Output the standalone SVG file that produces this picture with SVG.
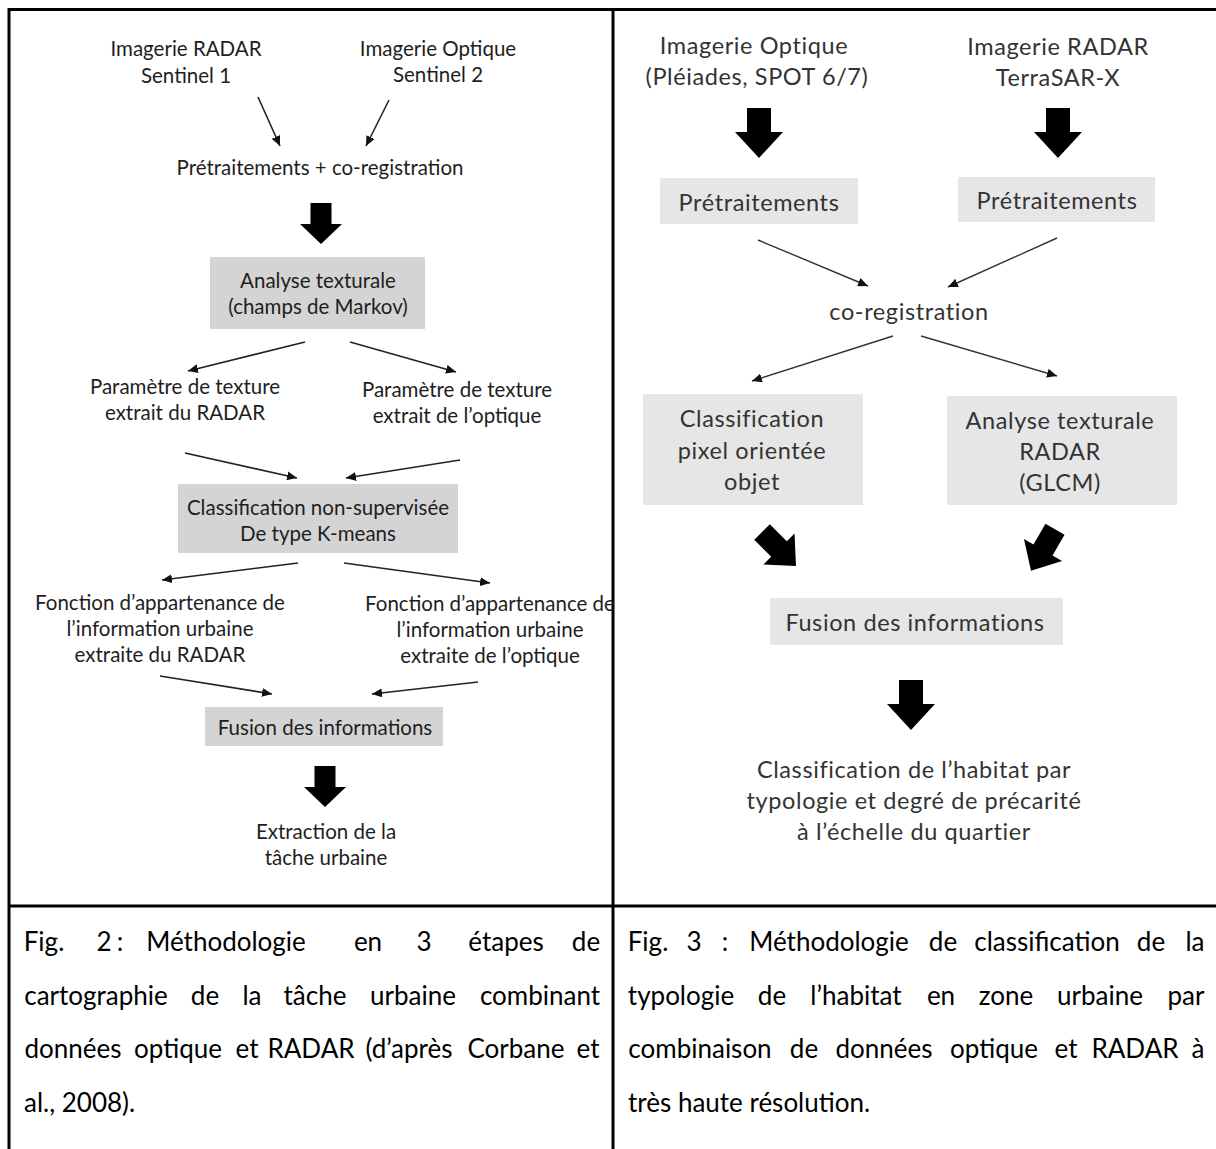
<svg xmlns="http://www.w3.org/2000/svg" width="1216" height="1149" viewBox="0 0 1216 1149">
<defs>
<style>
.t{font-family:Lato,"Liberation Sans",sans-serif;font-size:20.5px;fill:#1e1e1e;text-anchor:middle}
.tr{font-family:Lato,"Liberation Sans",sans-serif;font-size:23.5px;fill:#333;text-anchor:middle;letter-spacing:0.6px}
.cap{font-family:Lato,"Liberation Sans",sans-serif;font-size:26px;fill:#000;text-anchor:middle}
.capl{font-family:Lato,"Liberation Sans",sans-serif;font-size:26px;fill:#000}
.box{fill:#d4d4d4}
.boxr{fill:#e6e6e6}
.ln{stroke:#222;stroke-width:1.6;fill:none;marker-end:url(#ah)}
.lnr{stroke:#333;stroke-width:1.4;fill:none;marker-end:url(#ah)}
.frame{stroke:#000;stroke-width:3;fill:none}
.blk{fill:#000}
</style>
<marker id="ah" markerUnits="userSpaceOnUse" markerWidth="11" markerHeight="9" refX="10" refY="4.5" orient="auto">
<path d="M0,0 L10,4.5 L0,9 Z" fill="#111"/>
</marker>
<path id="bal" d="M-10.5,0 H10.5 V21 H21 L0,41 L-21,21 H-10.5 Z"/>
<path id="bar" d="M-12,0 H12 V24 H24 L0,50 L-24,24 H-12 Z"/>
<path id="bad" d="M-11,-24 H11 V0 H22 L0,24 L-22,0 H-11 Z"/>
</defs>
<rect x="0" y="0" width="1216" height="1149" fill="#fff"/>

<g id="frame">
<line class="frame" x1="9" y1="9.5" x2="1216" y2="9.5"/>
<line class="frame" x1="9" y1="8" x2="9" y2="1149"/>
<line class="frame" x1="613" y1="8" x2="613" y2="1149"/>
<line class="frame" x1="9" y1="906" x2="1216" y2="906"/>
</g>

<g id="connectors">
<line class="ln" x1="258" y1="97" x2="280" y2="146"/>
<line class="ln" x1="389" y1="100" x2="366" y2="146"/>
<line class="ln" x1="305" y1="342" x2="188" y2="371"/>
<line class="ln" x1="350" y1="342" x2="456" y2="372"/>
<line class="ln" x1="185" y1="453" x2="297" y2="478"/>
<line class="ln" x1="460" y1="460" x2="346" y2="478"/>
<line class="ln" x1="298" y1="563" x2="162" y2="580"/>
<line class="ln" x1="344" y1="563" x2="490" y2="583"/>
<line class="ln" x1="160" y1="676" x2="272" y2="694"/>
<line class="ln" x1="478" y1="682" x2="372" y2="694"/>
<use href="#bal" class="blk" x="321" y="203"/>
<use href="#bal" class="blk" x="325" y="766"/>

<line class="lnr" x1="758" y1="240" x2="868" y2="286"/>
<line class="lnr" x1="1057" y1="238" x2="948" y2="287"/>
<line class="lnr" x1="893" y1="336" x2="752" y2="381"/>
<line class="lnr" x1="921" y1="336" x2="1057" y2="376"/>
<use href="#bar" class="blk" x="759" y="108"/>
<use href="#bar" class="blk" x="1058" y="108"/>
<use href="#bad" class="blk" transform="translate(779,549) rotate(-45)"/>
<use href="#bad" class="blk" transform="translate(1043,550) rotate(30)"/>
<use href="#bar" class="blk" x="911" y="680"/>
</g>

<g id="n-radar1"><text class="t" x="186" y="56">Imagerie RADAR</text><text class="t" x="186" y="83">Sentinel 1</text></g>
<g id="n-opt2"><text class="t" x="438" y="56">Imagerie Optique</text><text class="t" x="438" y="82">Sentinel 2</text></g>
<g id="n-pretrait"><text class="t" x="320" y="175">Prétraitements + co-registration</text></g>
<g id="n-analyse"><rect class="box" x="210" y="257" width="215" height="72"/><text class="t" x="318" y="288">Analyse texturale</text><text class="t" x="318" y="314">(champs de Markov)</text></g>
<g id="n-param-radar"><text class="t" x="185" y="394">Paramètre de texture</text><text class="t" x="185" y="420">extrait du RADAR</text></g>
<g id="n-param-opt"><text class="t" x="457" y="397">Paramètre de texture</text><text class="t" x="457" y="423">extrait de l’optique</text></g>
<g id="n-classif"><rect class="box" x="178" y="484" width="280" height="69"/><text class="t" x="318" y="515">Classification non-supervisée</text><text class="t" x="318" y="541">De type K-means</text></g>
<g id="n-fonc-radar"><text class="t" x="160" y="610">Fonction d’appartenance de</text><text class="t" x="160" y="636">l’information urbaine</text><text class="t" x="160" y="662">extraite du RADAR</text></g>
<g id="n-fonc-opt"><text class="t" x="490" y="611">Fonction d’appartenance de</text><text class="t" x="490" y="637">l’information urbaine</text><text class="t" x="490" y="663">extraite de l’optique</text></g>
<g id="n-fusion1"><rect class="box" x="205" y="707" width="238" height="39"/><text class="t" x="325" y="735">Fusion des informations</text></g>
<g id="n-extraction"><text class="t" x="326" y="839">Extraction de la</text><text class="t" x="326" y="865">tâche urbaine</text></g>

<g id="n-optique"><text class="tr" x="754" y="54">Imagerie Optique</text><text class="tr" x="757" y="85">(Pléiades, SPOT 6/7)</text></g>
<g id="n-terrasar"><text class="tr" x="1058" y="55">Imagerie RADAR</text><text class="tr" x="1058" y="86">TerraSAR-X</text></g>
<g id="n-pre-l"><rect class="boxr" x="660" y="178" width="198" height="46"/><text class="tr" x="759" y="211">Prétraitements</text></g>
<g id="n-pre-r"><rect class="boxr" x="958" y="177" width="197" height="45"/><text class="tr" x="1057" y="209">Prétraitements</text></g>
<g id="n-coreg"><text class="tr" x="909" y="320">co-registration</text></g>
<g id="n-classpix"><rect class="boxr" x="643" y="394" width="220" height="111"/><text class="tr" x="752" y="427">Classification</text><text class="tr" x="752" y="459">pixel  orientée</text><text class="tr" x="752" y="490">objet</text></g>
<g id="n-glcm"><rect class="boxr" x="947" y="396" width="230" height="109"/><text class="tr" x="1060" y="429">Analyse texturale</text><text class="tr" x="1060" y="460">RADAR</text><text class="tr" x="1060" y="491">(GLCM)</text></g>
<g id="n-fusion2"><rect class="boxr" x="770" y="598" width="293" height="47"/><text class="tr" x="915" y="631">Fusion des informations</text></g>
<g id="n-habitat"><text class="tr" x="914" y="778">Classification de l’habitat par</text><text class="tr" x="914" y="809">typologie et degré de précarité</text><text class="tr" x="914" y="840">à l’échelle du quartier</text></g>

<g id="caption-fig2">
<text class="cap" y="951"><tspan x="44">Fig.</tspan><tspan x="104">2</tspan><tspan x="120">:</tspan><tspan x="226">Méthodologie</tspan><tspan x="368">en</tspan><tspan x="424">3</tspan><tspan x="506">étapes</tspan><tspan x="586">de</tspan></text>
<text class="cap" y="1005"><tspan x="96">cartographie</tspan><tspan x="205">de</tspan><tspan x="252">la</tspan><tspan x="315">tâche</tspan><tspan x="413">urbaine</tspan><tspan x="540">combinant</tspan></text>
<text class="cap" y="1058"><tspan x="73">données</tspan><tspan x="178">optique</tspan><tspan x="247">et</tspan><tspan x="311">RADAR</tspan><tspan x="409">(d’après</tspan><tspan x="516">Corbane</tspan><tspan x="588">et</tspan></text>
<text class="capl" x="24" y="1112">al., 2008).</text>
</g>
<g id="caption-fig3">
<text class="cap" y="951"><tspan x="648">Fig.</tspan><tspan x="694">3</tspan><tspan x="725">:</tspan><tspan x="829">Méthodologie</tspan><tspan x="943">de</tspan><tspan x="1047">classification</tspan><tspan x="1151">de</tspan><tspan x="1195">la</tspan></text>
<text class="cap" y="1005"><tspan x="681">typologie</tspan><tspan x="772">de</tspan><tspan x="856">l’habitat</tspan><tspan x="941">en</tspan><tspan x="1006">zone</tspan><tspan x="1100">urbaine</tspan><tspan x="1186">par</tspan></text>
<text class="cap" y="1058"><tspan x="700">combinaison</tspan><tspan x="804">de</tspan><tspan x="884">données</tspan><tspan x="994">optique</tspan><tspan x="1066">et</tspan><tspan x="1135">RADAR</tspan><tspan x="1198">à</tspan></text>
<text class="capl" x="628" y="1112">très haute résolution.</text>
</g>
</svg>
